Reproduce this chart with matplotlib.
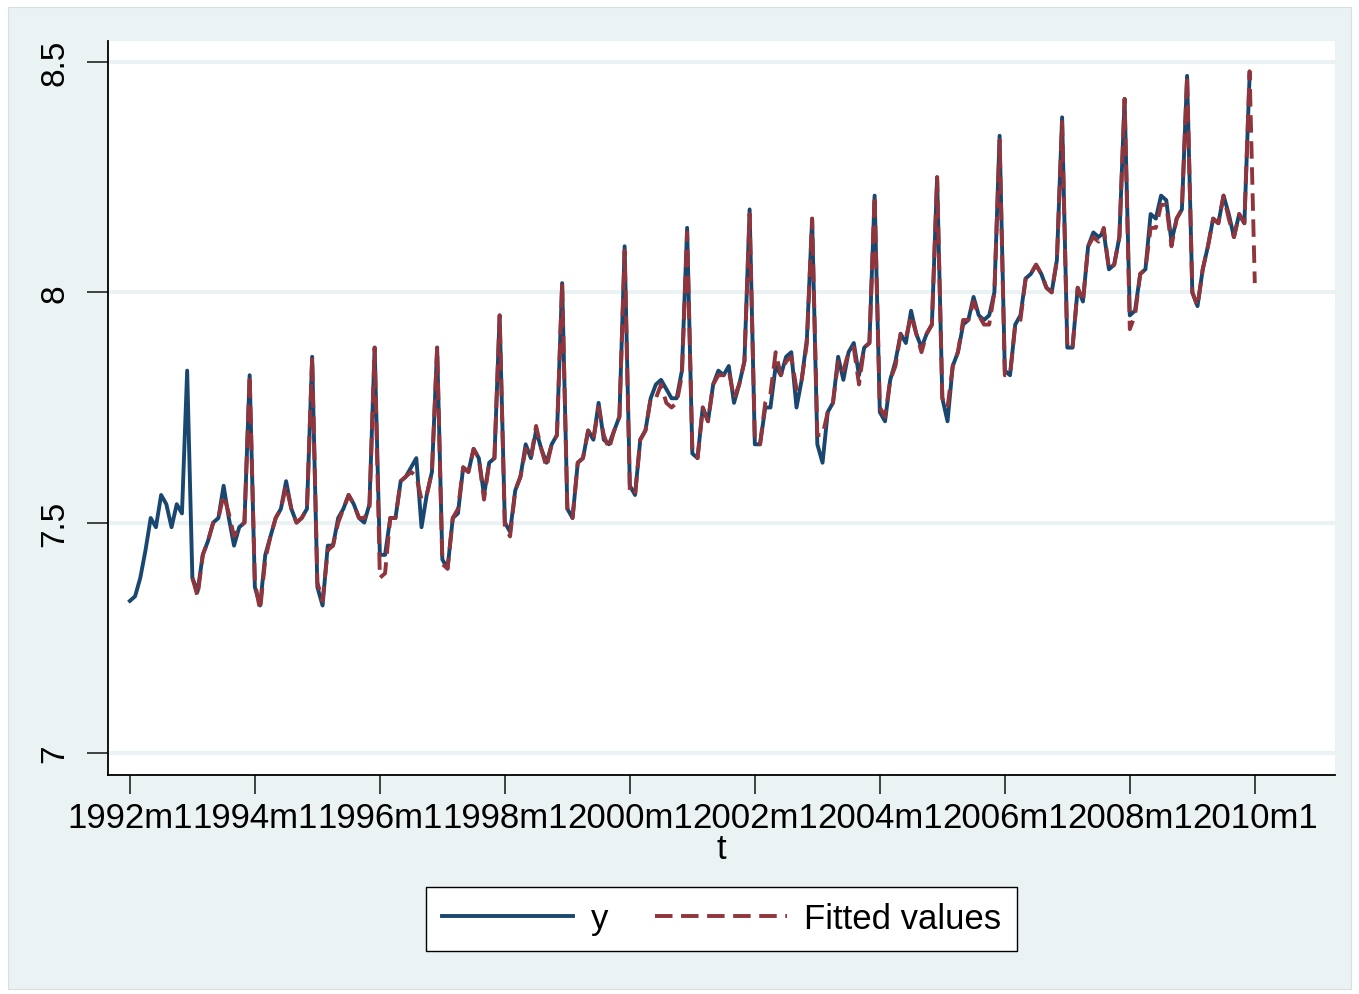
"""
Stata-style line plot: monthly series y and its fitted values, 1992m1-2010m1.
Output: out.png
"""

import matplotlib.pyplot as plt
from matplotlib.patches import Rectangle

W, H = 1359, 995

# monthly observations of y, 1992m1 .. 2009m12 (one row per year)
y_vals = [
    7.33, 7.34, 7.38, 7.44, 7.51, 7.49, 7.56, 7.54, 7.49, 7.54, 7.52, 7.83,
    7.38, 7.35, 7.43, 7.46, 7.50, 7.51, 7.58, 7.51, 7.45, 7.49, 7.50, 7.82,
    7.36, 7.32, 7.43, 7.47, 7.51, 7.53, 7.59, 7.53, 7.50, 7.51, 7.53, 7.86,
    7.36, 7.32, 7.45, 7.45, 7.51, 7.53, 7.56, 7.54, 7.51, 7.50, 7.54, 7.88,
    7.43, 7.43, 7.51, 7.51, 7.59, 7.60, 7.62, 7.64, 7.49, 7.56, 7.61, 7.88,
    7.42, 7.40, 7.51, 7.52, 7.62, 7.61, 7.66, 7.64, 7.56, 7.63, 7.64, 7.95,
    7.50, 7.48, 7.57, 7.60, 7.67, 7.64, 7.70, 7.66, 7.63, 7.67, 7.69, 8.02,
    7.53, 7.51, 7.63, 7.64, 7.70, 7.68, 7.76, 7.68, 7.67, 7.70, 7.73, 8.10,
    7.58, 7.56, 7.68, 7.70, 7.77, 7.80, 7.81, 7.79, 7.77, 7.77, 7.83, 8.14,
    7.65, 7.64, 7.75, 7.72, 7.80, 7.83, 7.82, 7.84, 7.76, 7.80, 7.85, 8.18,
    7.67, 7.67, 7.75, 7.75, 7.84, 7.82, 7.86, 7.87, 7.75, 7.81, 7.90, 8.16,
    7.67, 7.63, 7.74, 7.76, 7.86, 7.81, 7.87, 7.89, 7.82, 7.88, 7.89, 8.21,
    7.74, 7.72, 7.81, 7.85, 7.91, 7.89, 7.96, 7.91, 7.88, 7.91, 7.93, 8.25,
    7.77, 7.72, 7.84, 7.87, 7.93, 7.94, 7.99, 7.95, 7.94, 7.95, 8.00, 8.34,
    7.83, 7.82, 7.93, 7.95, 8.03, 8.04, 8.06, 8.04, 8.01, 8.00, 8.07, 8.38,
    7.88, 7.88, 8.01, 7.98, 8.10, 8.13, 8.12, 8.13, 8.05, 8.06, 8.12, 8.42,
    7.95, 7.96, 8.04, 8.05, 8.17, 8.16, 8.21, 8.20, 8.11, 8.16, 8.18, 8.47,
    8.00, 7.97, 8.05, 8.10, 8.16, 8.15, 8.21, 8.17, 8.12, 8.17, 8.15, 8.47,
]

# fitted values start in 1993m1 and run one month past the data (2010m1)
fitted_start = 12
fitted_vals = [
    7.38, 7.34, 7.43, 7.46, 7.50, 7.51, 7.56, 7.52, 7.47, 7.49, 7.50, 7.82,
    7.37, 7.31, 7.42, 7.47, 7.51, 7.53, 7.58, 7.53, 7.50, 7.51, 7.53, 7.86,
    7.37, 7.33, 7.44, 7.45, 7.50, 7.53, 7.56, 7.54, 7.51, 7.51, 7.53, 7.88,
    7.38, 7.39, 7.51, 7.51, 7.59, 7.60, 7.61, 7.60, 7.55, 7.56, 7.61, 7.88,
    7.41, 7.40, 7.51, 7.53, 7.62, 7.61, 7.66, 7.64, 7.55, 7.63, 7.64, 7.95,
    7.49, 7.47, 7.57, 7.60, 7.66, 7.64, 7.71, 7.66, 7.62, 7.67, 7.69, 8.02,
    7.53, 7.51, 7.63, 7.64, 7.70, 7.68, 7.75, 7.69, 7.66, 7.70, 7.73, 8.09,
    7.57, 7.56, 7.68, 7.70, 7.77, 7.77, 7.80, 7.76, 7.75, 7.76, 7.82, 8.13,
    7.66, 7.64, 7.75, 7.72, 7.80, 7.82, 7.82, 7.83, 7.77, 7.80, 7.85, 8.17,
    7.68, 7.67, 7.76, 7.78, 7.87, 7.82, 7.85, 7.86, 7.79, 7.81, 7.89, 8.16,
    7.69, 7.69, 7.74, 7.76, 7.85, 7.83, 7.87, 7.88, 7.80, 7.88, 7.89, 8.21,
    7.75, 7.73, 7.81, 7.84, 7.91, 7.90, 7.95, 7.91, 7.87, 7.91, 7.93, 8.25,
    7.77, 7.75, 7.84, 7.87, 7.94, 7.94, 7.98, 7.95, 7.93, 7.93, 8.00, 8.33,
    7.82, 7.82, 7.93, 7.94, 8.03, 8.04, 8.06, 8.04, 8.01, 8.00, 8.07, 8.37,
    7.88, 7.88, 8.01, 7.98, 8.10, 8.12, 8.11, 8.14, 8.05, 8.06, 8.12, 8.42,
    7.92, 7.95, 8.04, 8.05, 8.14, 8.14, 8.19, 8.19, 8.10, 8.16, 8.18, 8.47,
    8.00, 7.97, 8.05, 8.10, 8.16, 8.15, 8.21, 8.16, 8.12, 8.17, 8.15, 8.48,
    8.02,
]

x_tick_pos = list(range(0, 217, 24))
x_tick_labels = [f"{1992 + 2 * i}m1" for i in range(len(x_tick_pos))]
y_ticks = [7, 7.5, 8, 8.5]
y_tick_labels = ["7", "7.5", "8", "8.5"]

NAVY = "#1a476f"
MAROON = "#90353b"
BG = "#eaf2f3"

plt.rcParams["font.family"] = ["Liberation Sans", "DejaVu Sans"]

fig = plt.figure(figsize=(W / 100, H / 100), dpi=100, facecolor="white")
# outer light panel, Stata s2color style (drawn beneath the axes)
fig.patches.append(Rectangle((8 / W, 5 / H), 1343 / W, 982 / H,
                             transform=fig.transFigure, facecolor=BG,
                             edgecolor="#d8dfe0", lw=0.8, zorder=-10))

ax = fig.add_axes([108 / W, 1 - 776 / H, (1335 - 108) / W, (776 - 42) / H])
ax.set_zorder(1)
ax.set_facecolor("white")

months_y = list(range(len(y_vals)))
months_f = list(range(fitted_start, fitted_start + len(fitted_vals)))

ax.plot(months_y, y_vals, color=NAVY, lw=2.8, label="y", zorder=3)
ax.plot(months_f, fitted_vals, color=MAROON, lw=2.8, ls=(0, (4.5, 2.2)),
        label="Fitted values", zorder=4)

ax.set_xlim(-4.2, 231.4)
ax.set_ylim(6.952, 8.5457)

ax.set_xticks(x_tick_pos)
ax.set_xticklabels(x_tick_labels, fontsize=25)
ax.set_yticks(y_ticks)
ax.set_yticklabels(y_tick_labels, fontsize=24, rotation=90, va="center")
ax.tick_params(axis="x", length=14, width=1.3, pad=5, color="#333333")
ax.tick_params(axis="y", length=15, width=1.3, pad=12, color="#333333")

ax.grid(axis="y", color=BG, lw=3, zorder=1)
ax.set_axisbelow(True)

for side in ("top", "right"):
    ax.spines[side].set_visible(False)
for side in ("left", "bottom"):
    ax.spines[side].set_color("black")
    ax.spines[side].set_linewidth(1.3)

ax.set_xlabel("t", fontsize=25, labelpad=-2)

leg = fig.legend(loc="center", bbox_to_anchor=(721.5 / W, 1 - 920 / H),
                 ncol=2, fontsize=25, frameon=True, fancybox=False,
                 edgecolor="black", facecolor="white", framealpha=1,
                 handlelength=3.8, handletextpad=0.5, columnspacing=1.35,
                 borderpad=0.45)
leg.get_frame().set_linewidth(1.0)
for line in leg.get_lines():
    line.set_linewidth(2.8)

fig.savefig("out.png", dpi=100, facecolor=fig.get_facecolor())
